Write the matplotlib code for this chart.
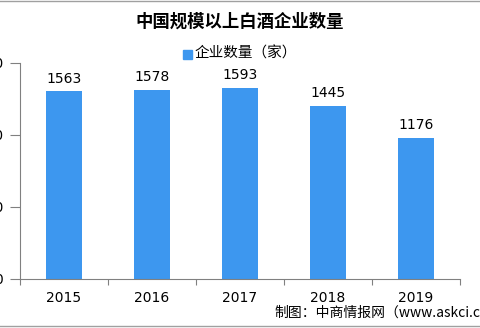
import matplotlib.pyplot as plt
import numpy as np

plt.rcParams['font.family'] = ['Noto Sans CJK SC', 'DejaVu Sans']

years = ['2015', '2016', '2017', '2018', '2019']
counts = [1563, 1578, 1593, 1445, 1176]
yticks = [0, 600, 1200, 1800]

W, H = 480, 328
fig = plt.figure(figsize=(W / 100, H / 100), dpi=100)
ax = fig.add_axes([20 / W, (H - 279) / H, 440 / W, (279 - 63) / H])

x = np.arange(len(years))
bars = ax.bar(x, counts, width=0.41, color='#3d97ef', zorder=2)
for xi, v in zip(x, counts):
    ax.annotate(str(v), (xi, v), xytext=(0, 4), textcoords='offset points',
                ha='center', va='bottom', fontsize=10, family='DejaVu Sans')

ax.set_xlim(-0.5, len(years) - 0.5)
ax.set_ylim(0, 1800)
ax.set_yticks(yticks)
ax.set_yticklabels([str(t) for t in yticks], fontsize=10, family='DejaVu Sans')
ax.set_xticks(np.arange(-0.5, len(years), 1))
ax.set_xticklabels([])
ax.set_xticks(x, minor=True)
ax.set_xticklabels(years, minor=True, fontsize=10, family='DejaVu Sans')
ax.tick_params(axis='x', which='minor', length=0, pad=9)
ax.tick_params(axis='x', which='major', length=4, color='#808080')
ax.tick_params(axis='y', length=7, pad=5, color='#808080')

for s in ['top', 'right']:
    ax.spines[s].set_visible(False)
for s in ['left', 'bottom']:
    ax.spines[s].set_color('#808080')

fig.text(0.5, 1 - 22 / H, '中国规模以上白酒企业数量', ha='center', va='center',
         fontsize=12.5, fontweight='bold')
fig.patches.append(plt.Rectangle((183 / W, 1 - 59 / H), 9 / W, 9 / H,
                                 transform=fig.transFigure, color='#3d97ef'))
fig.text(195 / W, 1 - 54 / H, '企业数量（家）', ha='left', va='center', fontsize=10.5)
fig.text(274 / W, 1 - 313 / H, '制图：中商情报网（www.askci.com）', ha='left',
         va='center', fontsize=10)

fig.add_artist(plt.Line2D([0, 1], [1 - 1 / H, 1 - 1 / H], color='#a0a0a0', lw=1))
fig.add_artist(plt.Line2D([0, 1], [1 - 326 / H, 1 - 326 / H], color='#a0a0a0', lw=1))

fig.savefig('out.png', dpi=100)
